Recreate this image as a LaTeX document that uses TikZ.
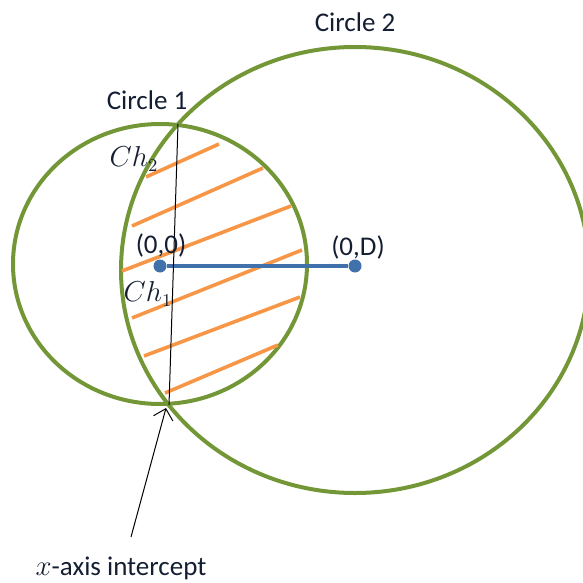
\documentclass[tikz,border=0pt]{standalone}
\usepackage{fontspec}
\setmainfont{Carlito}
\usepackage{tikz}
\usetikzlibrary{arrows.meta, calc}

\definecolor{circgreen}{RGB}{115,150,55}
\definecolor{hatchorange}{RGB}{247,150,70}
\definecolor{segblue}{RGB}{65,113,170}
\definecolor{txtdark}{RGB}{20,30,50}

\begin{document}
\begin{tikzpicture}[
    x=0.5pt, y=-0.5pt,
    circ/.style={draw=circgreen, line width=2pt},
    hatch/.style={draw=hatchorange, line width=1.8pt},
    seg/.style={draw=segblue, line width=2.1pt},
    dot/.style={fill=segblue, circle, inner sep=0pt, minimum size=6.5pt},
    lbl/.style={font=\fontsize{13.5}{15}\selectfont, text=txtdark, inner sep=1pt},
    thin line/.style={draw=black, line width=0.5pt}
]
    \useasboundingbox (0,0) rectangle (583,583);

    % the two circles
    \draw[circ] (160,264) ellipse [x radius=73.5pt, y radius=70pt];
    \draw[circ] (355,270) ellipse [x radius=117pt, y radius=111.5pt];

    % hatching of the overlap
    \draw[hatch] (146,177) -- (219,144);
    \draw[hatch] (132,226) -- (263,168);
    \draw[hatch] (122,271) -- (291,206);
    \draw[hatch] (132,318) -- (302,250);
    \draw[hatch] (144,356) -- (300,297);
    \draw[hatch] (165,393) -- (278,345);

    % centres
    \node[dot] (c1) at (160,266) {};
    \node[dot] (c2) at (355,266) {};
    \draw[seg] (c1) -- (c2);

    % common chord
    \coordinate (top) at (178,124);
    \coordinate (bot) at (169,405);
    \draw[thin line] (top) -- (bot);

    % labels
    \node[lbl] (n1) at (147,100) {Circle 1};
    \node[lbl] (n2) at (355,22) {Circle 2};
    \node[lbl] (ch2) at (134,159) {$Ch_2$};
    \node[lbl] (o1) at (161,245) {(0,0)};
    \node[lbl] (ch1) at (148,294) {$Ch_1$};
    \node[lbl] (o2) at (358,247) {(0,D)};
    \node[lbl] (xi) at (121,568) {$x$-axis intercept};

    \draw[thin line, -{Straight Barb[length=5pt]}] (131,537) -- (166,408);
\end{tikzpicture}
\end{document}
